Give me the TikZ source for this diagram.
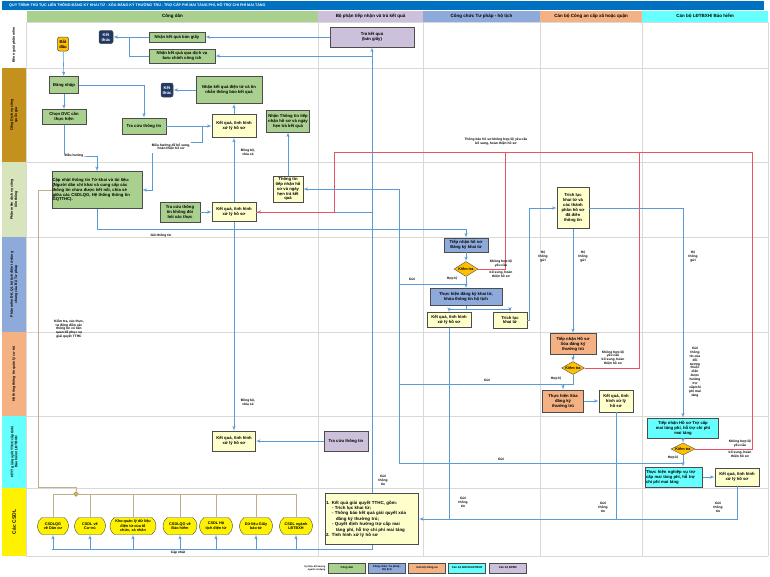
\documentclass[tikz,border=0pt]{standalone}
\usepackage{fontspec}
\setmainfont{Liberation Sans}
\usepackage{tikz}
\usetikzlibrary{shapes,arrows,fit,calc,positioning}
\definecolor{tieude}{RGB}{0,112,192}
\definecolor{xanhla}{RGB}{169,208,142}
\definecolor{vangnhat}{RGB}{255,255,204}
\definecolor{xanhtp}{RGB}{142,170,219}
\definecolor{camca}{RGB}{244,177,131}
\definecolor{xanhld}{RGB}{102,255,255}
\definecolor{tim}{RGB}{204,192,218}
\definecolor{vangdam}{RGB}{197,145,30}
\definecolor{xamxanh}{RGB}{216,228,188}
\definecolor{duongxanh}{RGB}{91,155,213}
\definecolor{duongdo}{RGB}{232,84,96}
\definecolor{duongnau}{RGB}{190,176,140}
\definecolor{luoi}{RGB}{217,217,217}
\definecolor{xanhdam}{RGB}{31,56,100}
\definecolor{vangkt}{RGB}{255,192,0}
\tikzset{box/.style={draw=black!70, line width=0.5pt, align=center, inner sep=0.5pt, font=\bfseries\fontsize{4.2}{4.9}\selectfont}}
\tikzset{cdbox/.style={box, fill=xanhla}}
\tikzset{kqbox/.style={box, fill=vangnhat}}
\tikzset{tpbox/.style={box, fill=xanhtp}}
\tikzset{cabox/.style={box, fill=camca}}
\tikzset{ldbox/.style={box, fill=xanhld}}
\tikzset{mcbox/.style={box, fill=tim}}
\tikzset{endbox/.style={box, rounded corners=2pt, fill=xanhdam, text=white}}
\tikzset{check/.style={draw=black!70, diamond, aspect=1.8, fill=vangkt, inner sep=0.2pt, font=\bfseries\fontsize{3.8}{4.4}\selectfont}}
\tikzset{db/.style={draw=black!70, rounded rectangle, rounded rectangle arc length=110, fill=yellow, align=center, inner sep=0.5pt, font=\bfseries\fontsize{3.8}{4.4}\selectfont, minimum height=17}}
\tikzset{lbl/.style={align=center, inner sep=0.5pt, font=\bfseries\fontsize{3.3}{3.9}\selectfont}}
\tikzset{lanebox/.style={align=center, inner sep=0.5pt, rotate=90, minimum height=24, font=\bfseries\fontsize{3.5}{4.1}\selectfont}}
\tikzset{hdcell/.style={align=center, minimum height=11, inner sep=0pt, font=\bfseries\fontsize{4.5}{5}\selectfont}}
\tikzset{leg/.style={box, minimum width=37, minimum height=10, font=\bfseries\fontsize{2.8}{3.3}\selectfont}}
\tikzset{line/.style={draw=duongxanh, line width=0.6pt, -latex'}}
\tikzset{nline/.style={draw=duongxanh, line width=0.6pt}}
\tikzset{redl/.style={draw=duongdo, line width=0.6pt, -latex'}}
\tikzset{redn/.style={draw=duongdo, line width=0.6pt}}
\tikzset{tanl/.style={draw=duongnau, line width=0.6pt}}
\begin{document}
\begin{tikzpicture}[x=1pt, y=-1pt, auto]
        \useasboundingbox (0,0) rectangle (770,576);
        % tieu de va cot
        \fill[tieude] (2,1) rectangle (764,10);
        \node [anchor=west, text=white, inner sep=0pt, font=\bfseries\fontsize{3.7}{4}\selectfont] (tieude) at (9,5.5) {QUY TRÌNH THỦ TỤC LIÊN THÔNG ĐĂNG KÝ KHAI TỬ - XÓA ĐĂNG KÝ THƯỜNG TRÚ - TRỢ CẤP PHÍ MAI TÁNG PHÍ, HỖ TRỢ CHI PHÍ MAI TÁNG};
        \node [hdcell, fill=xanhla, minimum width=291]  (cotcd) at (172.5,16.5) {Công dân};
        \node [hdcell, fill=tim, minimum width=105]     (cotmc) at (370.5,16.5) {Bộ phận tiếp nhận và trả kết quả};
        \node [hdcell, fill=xanhtp, minimum width=117]  (cottp) at (481.5,16.5) {Công chức Tư pháp - hộ tịch};
        \node [hdcell, fill=camca, minimum width=102]   (cotca) at (591,16.5)   {Cán bộ Công an cấp xã hoặc quận};
        \node [hdcell, fill=xanhld, minimum width=126]  (cotld) at (705,16.5)   {Cán bộ LĐTBXH/ Bảo hiểm};
        % lan
        \node [lanebox, minimum width=46]               (lan1) at (14,45)    {Bên ngoài phần mềm};
        \node [lanebox, fill=vangdam, minimum width=94] (lan2) at (14,115)   {Cổng Dịch vụ công\\quốc gia};
        \node [lanebox, fill=xamxanh, minimum width=75] (lan3) at (14,199.5) {Phần mềm dịch vụ công\\liên thông};
        \node [lanebox, fill=xanhtp, minimum width=95]  (lan4) at (14,284.5) {Phần mềm ĐK, QL hộ tịch điện tử dùng\\chung của Bộ Tư pháp};
        \node [lanebox, fill=camca, minimum width=84]   (lan5) at (14,374)   {Hệ thống thông tin quản lý cư trú};
        \node [lanebox, fill=xanhld, minimum width=72]  (lan6) at (14,452)   {HTTT giải quyết TTHC cấp tỉnh/\\Bảo hiểm/ LĐTBXH};
        \node [lanebox, fill=yellow, minimum width=68, font=\bfseries\fontsize{5}{6}\selectfont] (lan7) at (14,522) {Các CSDL};
        \foreach \y in {22,68,162,237,332,416,488,556}
            \draw [luoi, line width=0.6pt] (26,\y) -- (768,\y);
        \foreach \x in {26,318,423,540,642,768}
            \draw [luoi, line width=0.6pt] (\x,22) -- (\x,556);
        %
        \node [box, rounded corners=2pt, fill=vangkt, minimum width=11, minimum height=14] (batdau) at (63,44) {Bắt\\đầu};
        \node [endbox, minimum width=14, minimum height=13]  (ketthuc1) at (106,37) {Kết\\thúc};
        \node [cdbox, minimum width=56, minimum height=10]   (nhangiay) at (177,37) {Nhận kết quả bản giấy};
        \node [cdbox, minimum width=66, minimum height=14]   (nhanbc)   at (182,56) {Nhận kết quả qua dịch vụ\\bưu chính công ích};
        \node [mcbox, minimum width=84, minimum height=20]   (trakq)    at (372,37) {Trả kết quả\\(bản giấy)};
        %
        \node [cdbox, minimum width=29, minimum height=17]   (dangnhap) at (64,85)   {Đăng nhập};
        \node [cdbox, minimum width=44, minimum height=15]   (chondvc)  at (64,117)  {Chọn DVC cần\\thực hiện};
        \node [cdbox, minimum width=44, minimum height=16]   (tracuu)   at (144,126) {Tra cứu thông tin};
        \node [endbox, minimum width=12, minimum height=14]  (ketthuc2) at (167,90)  {Kết\\thúc};
        \node [cdbox, minimum width=66, minimum height=27]   (nhandt)   at (229,90)  {Nhận kết quả điện tử và tin\\nhắn thông báo kết quả};
        \node [kqbox, minimum width=44, minimum height=23]   (kqcong)   at (234,126) {Kết quả, tình hình\\xử lý hồ sơ};
        \node [cdbox, minimum width=43, minimum height=22]   (nhantt)   at (288,121) {Nhận Thông tin tiếp\\nhận hồ sơ và ngày\\hẹn trả kết quả};
        %
        \node [cdbox, text width=89, align=left, minimum height=37] (capnhat) at (97,190) {Cập nhật thông tin Tờ khai và tài liệu:\\(Người dân chỉ khai và cung cấp các\\thông tin chưa được kết nối, chia sẻ\\giữa các CSDLQG, Hệ thống thông tin\\GQTTHC).};
        \node [cdbox, minimum width=40, minimum height=20]   (tracuult) at (180,212) {Tra cứu thông\\tin không đòi\\hỏi xác thực};
        \node [kqbox, minimum width=44, minimum height=19]   (kqlt)     at (234,212) {Kết quả, tình hình\\xử lý hồ sơ};
        \node [kqbox, minimum width=30, minimum height=26]   (ttinlt)   at (288,189) {Thông tin\\tiếp nhận hồ\\sơ và ngày\\hẹn trả kết\\quả};
        \node [kqbox, minimum width=32, minimum height=41]   (tlthanh)  at (573,208) {Trích lục\\khai tử và\\các thành\\phần hồ sơ\\đã điền\\thông tin};
        %
        \node [tpbox, minimum width=44, minimum height=14]   (tnkt)     at (466,245) {Tiếp nhận hồ sơ\\Đăng ký khai tử};
        \node [check, minimum width=24, minimum height=15]   (ktkt)     at (466,269) {Kiểm tra};
        \node [tpbox, minimum width=72, minimum height=17]   (thkt)     at (466,297) {Thực hiện đăng ký khai tử,\\khóa thông tin hộ tịch};
        \node [kqbox, minimum width=44, minimum height=15]   (kqkt)     at (449,320) {Kết quả, tình hình\\xử lý hồ sơ};
        \node [kqbox, minimum width=34, minimum height=16]   (tlkt)     at (510,320) {Trích lục\\khai tử};
        %
        \node [cabox, minimum width=46, minimum height=21]   (tnct)     at (573,344) {Tiếp nhận Hồ sơ\\Xóa đăng ký\\thường trú};
        \node [check, minimum width=23, minimum height=13]   (ktct)     at (573,368) {Kiểm tra};
        \node [cabox, minimum width=41, minimum height=22]   (thct)     at (563,401) {Thực hiện Xóa\\đăng ký\\thường trú};
        \node [kqbox, minimum width=34, minimum height=22]   (kqct)     at (616,401) {Kết quả, tình\\hình xử lý\\hồ sơ};
        %
        \node [kqbox, minimum width=43, minimum height=20]   (kqtinh)   at (234,441) {Kết quả, tình hình\\xử lý hồ sơ};
        \node [mcbox, minimum width=44, minimum height=20]   (tracuumc) at (346,441) {Tra cứu thông tin};
        \node [ldbox, minimum width=71, minimum height=20]   (tnld)     at (683,428) {Tiếp nhận Hồ sơ Trợ cấp\\mai táng phí, hỗ trợ chi phí\\mai táng};
        \node [check, minimum width=24, minimum height=11]   (ktld)     at (683,449) {Kiểm tra};
        \node [ldbox, text width=56, align=left, minimum height=20] (thld) at (674,477) {Thực hiện nghiệp vụ trợ\\cấp mai táng phí, hỗ trợ\\chi phí mai táng};
        \node [kqbox, minimum width=44, minimum height=18]   (kqld)     at (737,477) {Kết quả, tình hình\\xử lý hồ sơ};
        %
        \node [db, minimum width=32] (db1) at (53,526)  {CSDLQG\\về Dân cư};
        \node [db, minimum width=32] (db2) at (90,526)  {CSDL về\\Cư trú};
        \node [db, minimum width=47] (db3) at (133,526) {Kho quản lý dữ liệu\\điện tử của tổ\\chức, cá nhân};
        \node [db, minimum width=35] (db4) at (180,526) {CSDLQG về\\Bảo hiểm};
        \node [db, minimum width=34] (db5) at (216,526) {CSDL Hộ\\tịch điện tử};
        \node [db, minimum width=34] (db6) at (256,526) {Dữ liệu Giấy\\báo tử};
        \node [db, minimum width=34] (db7) at (296,526) {CSDL ngành\\LĐTBXH};
        \node [kqbox, text width=92, align=left, minimum height=51, font=\bfseries\fontsize{4.4}{5.4}\selectfont] (ketqua) at (372,519) {1. Kết quả giải quyết TTHC, gồm:\\\hspace*{6pt}- Trích lục khai tử;\\\hspace*{6pt}- Thông báo kết quả giải quyết xóa\\\hspace*{10pt}đăng ký thường trú;\\\hspace*{6pt}- Quyết định hưởng trợ cấp mai\\\hspace*{10pt}táng phí, hỗ trợ chi phí mai táng\\2. Tình hình xử lý hồ sơ};
        \node [draw=black!60, fill=vangkt, diamond, inner sep=1.2pt] (noi) at (76,494) {};
        %
        \coordinate (dhbs)  at (202,126);
        \coordinate (dhcn)  at (152,153);
        \coordinate (htl)   at (466,284);
        \coordinate (hct)   at (563,384);
        \coordinate (hld)   at (683,463);
        \coordinate (guid)  at (399,463);
        \coordinate (ttr)   at (334,152);
        \coordinate (dokt)  at (505,152);
        \coordinate (doct)  at (639,152);
        \coordinate (dold)  at (752,152);
        \coordinate (chiatl) at (466,309);
        \coordinate (capnhatd) at (52,549);
        %
        \path [line] (trakq.west) -- (nhangiay.east);
        \path [line] (nhangiay.west) -- (ketthuc1.east);
        \draw [nline] (nhanbc.west) -| ($(ketthuc1.east)!0.45!(nhangiay.west)$);
        \path [line] (trakq.south |- nhanbc.east) -- (nhanbc.east);
        \path [line] (ketqua.north) -- (trakq.south);
        \path [line] (batdau) -- (dangnhap);
        \path [line] (dangnhap) -- (chondvc);
        \path [line] (chondvc.south) |- (76,156) -| (capnhat.north);
        \node [lbl, fill=white] (lbldh) at (74,156) {Điều hướng};
        \path [line] (dangnhap.east) -| (tracuu.north);
        \path [line] (tracuu.east) -- (kqcong.west);
        \path [line] (kqcong.north) -- (kqcong.north |- nhandt.south);
        \path [line] (nhandt.west) -- (ketthuc2.east);
        \node [lbl] (lbldhbs) at (171,147) {Điều hướng để bổ sung,\\hoàn thiện hồ sơ};
        \draw [nline] (dhbs) |- (lbldhbs.north east);
        \path [line] (dhcn) |- (capnhat.east);
        \path [line] (kqlt.north) -- (kqcong.south);
        \node [lbl] (lbldb1) at (248,152) {Đồng bộ,\\chia sẻ};
        \path [line] (ttinlt.north) -- (nhantt.south);
        %
        \path [line] (tracuult.east) -- (kqlt.west);
        \draw [nline] (kqlt.east) -- (kqlt.east -| trakq.south);
        \path [line] (kqlt.south) -- (kqtinh.north);
        \node [lbl] (lbldb2) at (248,402) {Đồng bộ,\\chia sẻ};
        \path [line] (capnhat.south) |- ($(tnkt.north)+(0,-8)$) -- (tnkt.north);
        \node [lbl] (lblgtt) at (161,236) {Gửi thông tin};
        \path [line] (tracuumc.west) -- (kqtinh.east);
        %
        \path [line] (tnkt) -- (ktkt);
        \path [line] (ktkt) -- (thkt);
        \draw [nline] (thkt.south) -- (chiatl);
        \path [line] (chiatl) -| (kqkt.north);
        \path [line] (chiatl) -| (tlkt.north);
        \path [line] (tlkt.east) -- ++(2.5,0) |- (tlthanh.west);
        \path [line] (tlthanh.south) -- (tnct.north);
        \path [line] (tlthanh.east) -| (tnld.north);
        \node [lbl] (lblht1) at (543,257) {Hệ\\thống\\gửi};
        \node [lbl] (lblht2) at (583,257) {Hệ\\thống\\gửi};
        \node [lbl] (lblht3) at (693,257) {Hệ\\thống\\gửi};
        \node [lbl] (lbldt) at (695,372) {Gửi\\thông\\tin của\\đối\\tượng\\thuộc\\diện\\được\\hưởng\\trợ\\cấp/chi\\phí mai\\táng};
        %
        \path [line] (tnct) -- (ktct);
        \path [line] (ktct.south) |- (hct) -- (thct.north);
        \path [line] (thct) -- (kqct);
        \path [line] (tnld) -- (ktld);
        \path [line] (ktld.south) -- (ktld.south |- thld.north);
        \path [line] (thld) -- (kqld);
        % khong hop le
        \path [redl] (ktld.east) -| (dold) -- (ttr) |- (kqlt.east);
        \draw [redn] (ktkt.east) -| (dokt);
        \draw [redn] (ktct.east) -| (doct);
        \node [lbl] (lbltb) at (496,142) {Thông báo hồ sơ không hợp lệ/ yêu cầu\\bổ sung, hoàn thiện hồ sơ};
        \node [lbl, anchor=south] (lblkh1) at (501,268) {Không hợp lệ/\\yêu cầu};
        \node [lbl, anchor=north] (lblkh2) at (501,270) {bổ sung, hoàn\\thiện hồ sơ};
        \node [lbl, anchor=south] (lblkh3) at (613,366) {Không hợp lệ/\\yêu cầu\\bổ sung, hoàn\\thiện hồ sơ};
        \node [lbl, anchor=south] (lblkh4) at (740,448) {Không hợp lệ/\\yêu cầu};
        \node [lbl, anchor=north] (lblkh5) at (740,450) {bổ sung, hoàn\\thiện hồ sơ};
        \node [lbl] (lblhl1) at (452,279) {Hợp lệ};
        \node [lbl] (lblhl2) at (556,379) {Hợp lệ};
        \node [lbl] (lblhl3) at (673,458) {Hợp lệ};
        % gui thong tin tiep nhan
        \path [line] (hld) -- (guid) |- (ttinlt.east);
        \draw [nline] (hct) -- (hct -| guid);
        \draw [nline] (htl) -- (htl -| guid);
        \node [lbl] (lblg1) at (412,279) {Gửi};
        \node [lbl] (lblg2) at (487,380) {Gửi};
        \node [lbl] (lblg3) at (501,459) {Gửi};
        % gui ket qua
        \path [line] (kqld.south) |- (ketqua.east);
        \draw [nline] (kqct.south) -- (kqct.south |- ketqua.east);
        \draw [nline] (kqkt.south) -- (kqkt.south |- ketqua.east);
        \node [lbl] (lblk1) at (463,502) {Gửi\\thông\\tin};
        \node [lbl] (lblk2) at (603,507) {Gửi\\thông\\tin};
        \node [lbl] (lblk3) at (718,507) {Gửi\\thông\\tin};
        \node [lbl] (lblk4) at (383,480) {Gửi\\thông\\tin};
        % CSDL
        \draw [tanl] (capnhat.west) -- ++(-13,0) |- ($(noi.north)+(0,-4)$) -- (noi.north);
        \node [lbl] (lblkt) at (69,329) {Kiểm tra, xác thực,\\tự động điền các\\thông tin có liên\\quan để phục vụ\\giải quyết TTHC};
        \draw [tanl] (db1.north |- noi) -- (db7.north |- noi);
        \foreach \i in {1,...,7}
            \draw [tanl] (db\i.north |- noi) -- (db\i.north);
        \draw [nline] (ketqua.south) |- (capnhatd);
        \foreach \i in {1,...,7}
            \path [line] (db\i.south |- capnhatd) -- (db\i.south);
        \node [lbl] (lblcn) at (178,553) {Cập nhật};
        % chu thich
        \node [lbl, align=right, anchor=east, font=\bfseries\fontsize{2.4}{2.9}\selectfont] (chuthich) at (326,568) {Ký hiệu đối tượng\\người sử dụng};
        \node [leg, fill=xanhla] (lg1) at (347,568) {Công dân};
        \node [leg, fill=xanhtp] (lg2) at (387,568) {Công chức Tư pháp -\\Hộ tịch};
        \node [leg, fill=camca]  (lg3) at (427,568) {Cán bộ Công an};
        \node [leg, fill=xanhld] (lg4) at (467,568) {Cán bộ BHXH/LĐTBXH};
        \node [leg, fill=tim]    (lg5) at (508,568) {Cán bộ BPMC};
    \end{tikzpicture}
\end{document}
